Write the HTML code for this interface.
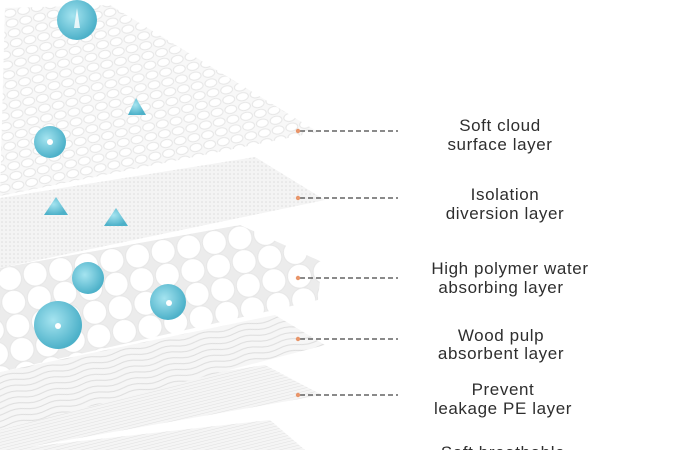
<!DOCTYPE html>
<html><head><meta charset="utf-8"><style>
html,body{margin:0;padding:0;background:#fff;width:700px;height:450px;overflow:hidden}
svg{display:block}
text{font-family:"Liberation Sans","DejaVu Sans",sans-serif;font-size:17px;fill:#2e2e2e;text-anchor:middle;letter-spacing:0.6px}
</style></head><body>
<svg width="700" height="450" viewBox="0 0 700 450" xmlns="http://www.w3.org/2000/svg">
<defs>
<pattern id="quilt" width="14" height="10" patternUnits="userSpaceOnUse" patternTransform="rotate(-12)">
<rect width="14" height="10" fill="#f8f8f8"/>
<ellipse cx="7" cy="5" rx="6" ry="4" fill="#fff" stroke="#e6e6e6" stroke-width="1"/>
</pattern>
<pattern id="mesh" width="4" height="4" patternUnits="userSpaceOnUse">
<rect width="4" height="4" fill="#f4f4f4"/><circle cx="2" cy="2" r="0.8" fill="#dedede"/>
</pattern>
<pattern id="balls" width="26" height="24" patternUnits="userSpaceOnUse" patternTransform="rotate(-10)">
<rect width="26" height="24" fill="#ececec"/>
<circle cx="13" cy="12" r="12" fill="#fff" stroke="#e6e6e6"/>
</pattern>
<pattern id="wave" width="40" height="6" patternUnits="userSpaceOnUse" patternTransform="rotate(-12)">
<rect width="40" height="6" fill="#f6f6f6"/>
<path d="M0 3 Q10 0 20 3 T40 3" fill="none" stroke="#dddddd" stroke-width="1"/>
</pattern>
<pattern id="lines" width="3" height="3" patternUnits="userSpaceOnUse" patternTransform="rotate(-14)">
<rect width="3" height="3" fill="#f5f5f5"/><line x1="0" y1="0" x2="3" y2="0" stroke="#e0e0e0"/>
</pattern>
<radialGradient id="drop" cx="0.4" cy="0.4" r="0.6">
<stop offset="0" stop-color="#a5e4f0"/><stop offset="1" stop-color="#4db1c9"/>
</radialGradient>
</defs>
<polygon points="0,450 270,420 305,450" fill="url(#lines)"/>
<polygon points="0,405 265,365 322,395 0,452" fill="url(#lines)"/>
<polygon points="0,372 275,315 325,345 0,430" fill="url(#wave)"/>
<polygon points="0,268 240,225 322,262 318,300 0,372" fill="url(#balls)"/>
<polygon points="0,198 255,157 325,200 0,268" fill="url(#mesh)"/>
<polygon points="5,8 110,5 318,132 0,196" fill="url(#quilt)"/>
<circle cx="77" cy="20" r="20" fill="url(#drop)"/><path d="M77 8 L74 28 L80 28Z" fill="#fff" opacity=".8"/>
<circle cx="50" cy="142" r="16" fill="url(#drop)"/><circle cx="50" cy="142" r="3" fill="#fff"/>
<path d="M136 98 L128 115 L146 115Z" fill="url(#drop)"/>
<path d="M56 197 L44 215 L68 215Z" fill="url(#drop)"/>
<path d="M116 208 L104 226 L128 226Z" fill="url(#drop)"/>
<circle cx="88" cy="278" r="16" fill="url(#drop)"/>
<circle cx="58" cy="325" r="24" fill="url(#drop)"/><circle cx="58" cy="326" r="3" fill="#fff"/>
<circle cx="168" cy="302" r="18" fill="url(#drop)"/><circle cx="169" cy="303" r="3" fill="#fff"/>
<g stroke="#444" stroke-width="1.2" stroke-dasharray="5,3">
<line x1="300" y1="131" x2="398" y2="131"/>
<line x1="300" y1="198" x2="398" y2="198"/>
<line x1="300" y1="278" x2="398" y2="278"/>
<line x1="300" y1="339" x2="398" y2="339"/>
<line x1="300" y1="395" x2="398" y2="395"/>
</g>
<g fill="#e8956a">
<circle cx="298" cy="131" r="2.2"/><circle cx="298" cy="198" r="2.2"/><circle cx="298" cy="278" r="2.2"/><circle cx="298" cy="339" r="2.2"/><circle cx="298" cy="395" r="2.2"/>
</g>
<text x="500" y="131">Soft cloud</text>
<text x="500" y="150">surface layer</text>
<text x="505" y="200">Isolation</text>
<text x="505" y="219">diversion layer</text>
<text x="510" y="274">High polymer water</text>
<text x="501" y="293">absorbing layer</text>
<text x="501" y="341">Wood pulp</text>
<text x="501" y="359">absorbent layer</text>
<text x="503" y="395">Prevent</text>
<text x="503" y="414">leakage PE layer</text>
<text x="503" y="458">Soft breathable</text>
</svg>
</body></html>
